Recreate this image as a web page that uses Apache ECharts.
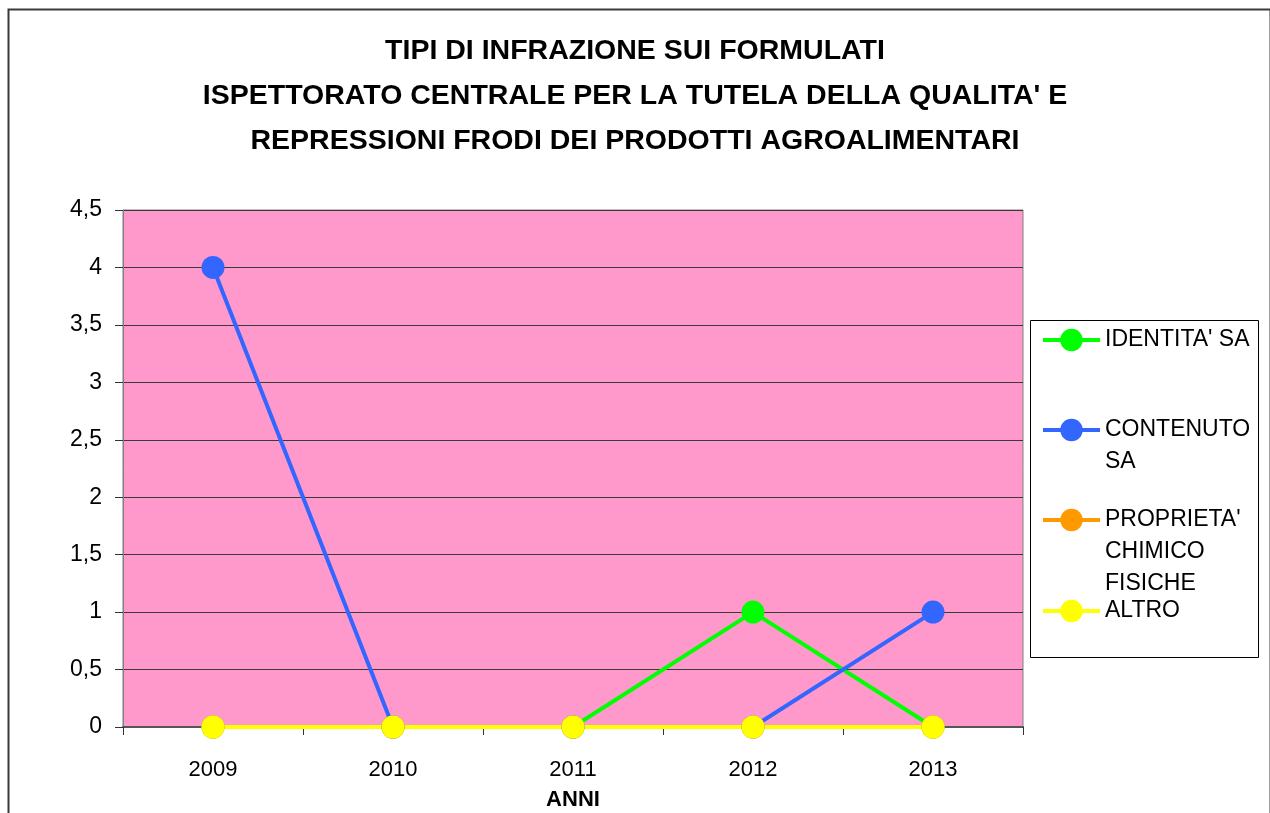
<!DOCTYPE html>
<html>
<head>
<meta charset="utf-8">
<script src="https://cdn.jsdelivr.net/npm/echarts@6/dist/echarts.min.js"></script>
<style>
  html, body { margin: 0; padding: 0; background: #fff; }
  #chart { width: 1270px; height: 813px; }
</style>
</head>
<body>
<div id="chart"></div>
<script>
var anni = ['2009', '2010', '2011', '2012', '2013'];
var nomiSerie = ["IDENTITA' SA", 'CONTENUTO SA', "PROPRIETA' CHIMICO FISICHE", 'ALTRO'];
// righe vuote davanti: l'icona della legenda cade sulla prima riga vera
var etichetteLegenda = ["IDENTITA' SA", '\nCONTENUTO\nSA', "\n\nPROPRIETA'\nCHIMICO\nFISICHE", 'ALTRO'];
var identita = [0, 0, 0, 1, 0];
var contenuto = [4, 0, 0, 0, 1];
var proprieta = [0, 0, 0, 0, 0];
var altro = [0, 0, 0, 0, 0];
var colori = ['#00ff00', '#3366ff', '#ff9900', '#ffff00'];

var myChart = echarts.init(document.getElementById('chart'));

// una legenda per voce
var topLegenda = [324, 382, 440, 595];
var legende = [];
for (var i = 0; i < nomiSerie.length; i++) {
  legende.push({
    data: [nomiSerie[i]],
    left: 1041,
    top: topLegenda[i],
    padding: 0,
    itemWidth: 57,
    itemHeight: 28,
    itemGap: 0,
    lineStyle: { width: 4 },
    formatter: (function (k) { return function () { return etichetteLegenda[k]; }; })(i),
    textStyle: {
      fontFamily: 'Liberation Sans, Arial, sans-serif',
      fontSize: 23,
      lineHeight: 32,
      color: '#000'
    }
  });
}

function serie(nome, dati, colore) {
  return {
    name: nome,
    type: 'line',
    data: dati,
    symbol: 'circle',
    symbolSize: 23,
    itemStyle: { color: colore },
    lineStyle: { color: colore, width: 4 },
    animation: false
  };
}

var option = {
  backgroundColor: '#fff',
  color: colori,
  title: {
    text: "TIPI DI INFRAZIONE SUI FORMULATI\nISPETTORATO CENTRALE PER LA TUTELA DELLA QUALITA' E\nREPRESSIONI FRODI DEI PRODOTTI AGROALIMENTARI",
    left: 'center',
    top: 24,
    textStyle: {
      fontFamily: 'Liberation Sans, Arial, sans-serif',
      fontWeight: 'bold',
      fontSize: 28.5,
      lineHeight: 45,
      color: '#000'
    }
  },
  graphic: [
    {
      type: 'rect',
      left: 6, top: 7,
      shape: { width: 1262, height: 900 },
      style: { fill: 'none', stroke: '#3a3a3a', lineWidth: 2 },
      silent: true
    },
    {
      type: 'rect',
      left: 1030, top: 320,
      shape: { width: 228, height: 337 },
      style: { fill: '#fff', stroke: '#000', lineWidth: 1 },
      silent: true,
      z: -1
    }
  ],
  legend: legende,
  grid: {
    left: 123, top: 210, width: 900, height: 517,
    outerBoundsMode: 'none',
    show: true,
    backgroundColor: '#ff99cc',
    borderColor: '#808080',
    borderWidth: 1
  },
  xAxis: {
    type: 'category',
    data: anni,
    boundaryGap: true,
    name: 'ANNI',
    nameLocation: 'middle',
    nameGap: 62,
    nameTextStyle: {
      fontFamily: 'Liberation Sans, Arial, sans-serif',
      fontWeight: 'bold',
      fontSize: 22,
      color: '#000'
    },
    axisLine: { lineStyle: { color: '#555', width: 2 } },
    axisTick: { show: true, length: 8, lineStyle: { color: '#333' } },
    axisLabel: {
      margin: 32,
      fontFamily: 'Liberation Sans, Arial, sans-serif',
      fontSize: 22,
      color: '#000'
    }
  },
  yAxis: {
    type: 'value',
    min: 0, max: 4.5, interval: 0.5,
    axisLine: { show: true, lineStyle: { color: '#808080' } },
    axisTick: { show: true, length: 8, lineStyle: { color: '#333' } },
    splitLine: { lineStyle: { color: '#3a3a3a', width: 1 } },
    axisLabel: {
      margin: 21,
      fontFamily: 'Liberation Sans, Arial, sans-serif',
      fontSize: 23,
      color: '#000',
      formatter: function (v) { return String(v).replace('.', ','); }
    }
  },
  series: [
    serie(nomiSerie[0], identita, colori[0]),
    serie(nomiSerie[1], contenuto, colori[1]),
    serie(nomiSerie[2], proprieta, colori[2]),
    serie(nomiSerie[3], altro, colori[3])
  ]
};

myChart.setOption(option);
</script>
</body>
</html>
